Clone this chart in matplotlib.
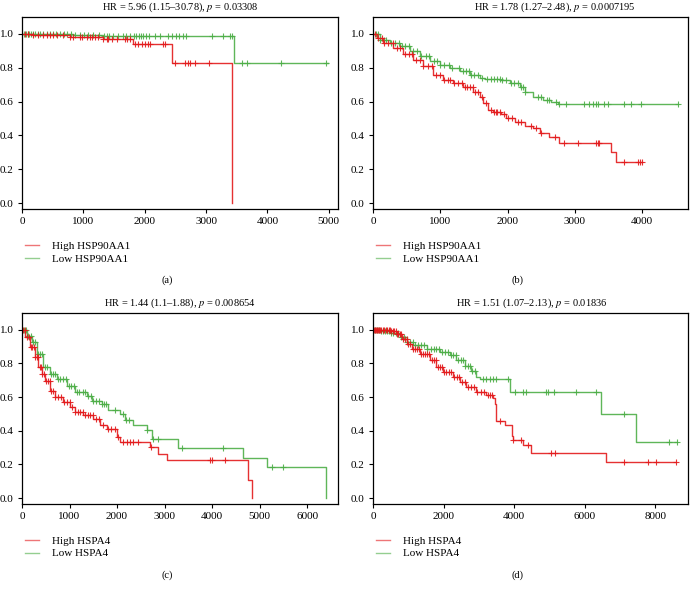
import numpy as np
import matplotlib
matplotlib.use("Agg")
import matplotlib.pyplot as plt
from matplotlib.lines import Line2D

plt.rcParams['font.family'] = ['Liberation Serif', 'DejaVu Serif']
plt.rcParams['mathtext.fontset'] = 'stix'

RED = '#e31a1c'
GREEN = '#4dae47'

# ---- (a) HSP90AA1 ----
a_high_t = [0, 185, 782, 1325, 1813, 2438, 3420]
a_high_s = [1.0, 0.995, 0.982, 0.968, 0.939, 0.830, 0.0]
a_high_c = [49, 103, 185, 266, 348, 402, 456, 510, 565, 673, 782, 836, 945, 972, 1053,
            1108, 1135, 1189, 1243, 1325, 1379, 1406, 1461, 1542, 1678, 1705, 1759,
            1841, 1895, 1949, 2004, 2058, 2085, 2302, 2329, 2492, 2655, 2710, 2737,
            2818, 3052]
a_low_t = [0, 836, 1325, 3453]
a_low_s = [1.0, 0.994, 0.988, 0.826]
a_low_c = [30, 60, 90, 120, 150, 180, 220, 260, 300, 350, 400, 450, 500, 560, 620, 680,
           740, 800, 870, 940, 1010, 1080, 1150, 1250, 1330, 1380, 1420, 1480, 1560,
           1650, 1700, 1760, 1820, 1860, 1900, 1940, 1980, 2020, 2070, 2170, 2250,
           2380, 2450, 2510, 2560, 2620, 2680, 3090, 3280, 3390, 3420, 3580, 3660,
           4220, 4950]

# ---- (b) HSP90AA1 ----
b_high_t = [0, 54, 153, 301, 449, 598, 746, 894, 1042, 1190, 1338, 1486, 1585, 1634,
            1709, 1783, 1906, 1980, 2104, 2252, 2375, 2474, 2622, 2770, 3536, 3610]
b_high_s = [1.0, 0.976, 0.947, 0.917, 0.881, 0.848, 0.808, 0.758, 0.729, 0.709, 0.689,
            0.659, 0.630, 0.590, 0.551, 0.537, 0.525, 0.501, 0.481, 0.457, 0.442, 0.412,
            0.388, 0.358, 0.303, 0.240]
b_high_c = [30, 70, 130, 170, 220, 290, 350, 400, 470, 530, 580, 640, 700, 750, 820, 880,
            940, 990, 1050, 1110, 1150, 1200, 1260, 1320, 1360, 1400, 1440, 1480, 1520,
            1560, 1620, 1680, 1760, 1800, 1820, 1840, 1880, 1950, 2010, 2060, 2150,
            2200, 2350, 2420, 2500, 2700, 2844, 3042, 3314, 3338, 3363, 3733, 3931,
            3965, 3995]
b_low_t = [0, 104, 252, 400, 548, 696, 844, 993, 1141, 1289, 1437, 1585, 1659, 1881,
           2030, 2178, 2252, 2375, 2523, 2647, 2746]
b_low_s = [1.0, 0.966, 0.947, 0.927, 0.897, 0.867, 0.838, 0.814, 0.798, 0.778, 0.758,
           0.739, 0.733, 0.729, 0.709, 0.689, 0.659, 0.630, 0.610, 0.596, 0.586]
b_low_c = [40, 80, 110, 160, 200, 260, 330, 380, 430, 480, 540, 600, 660, 720, 780, 830,
           900, 950, 1000, 1050, 1130, 1180, 1280, 1330, 1380, 1420, 1460, 1500, 1560,
           1620, 1700, 1760, 1800, 1840, 1880, 1920, 1980, 2050, 2100, 2150, 2200,
           2230, 2260, 2450, 2500, 2580, 2620, 2720, 2760, 2869, 3141, 3215, 3264,
           3314, 3338, 3437, 3487, 3733, 3832, 3980, 4538]

# ---- (c) HSPA4 ----
c_high_t = [0, 63, 168, 274, 344, 414, 484, 590, 695, 870, 1011, 1116, 1291, 1502, 1642,
            1783, 1993, 2063, 2695, 2870, 3046, 4765, 4835]
c_high_s = [1.0, 0.955, 0.897, 0.836, 0.777, 0.738, 0.698, 0.639, 0.600, 0.570, 0.540,
            0.511, 0.491, 0.471, 0.432, 0.412, 0.363, 0.331, 0.304, 0.260, 0.225, 0.110,
            0.0]
c_high_c = [30, 60, 100, 140, 180, 220, 250, 280, 310, 340, 370, 400, 430, 460, 500, 540,
            580, 620, 660, 700, 760, 820, 880, 940, 1000, 1060, 1120, 1170, 1220, 1280,
            1330, 1380, 1440, 1500, 1560, 1620, 1700, 1820, 1880, 1960, 2020, 2133,
            2204, 2274, 2344, 2449, 2716, 3958, 3993, 4274]
c_low_t = [0, 98, 204, 309, 449, 590, 730, 940, 1116, 1362, 1467, 1677, 1818, 2063, 2169,
           2344, 2625, 2730, 3291, 4660, 5151, 6400]
c_low_s = [1.0, 0.964, 0.925, 0.856, 0.777, 0.738, 0.708, 0.669, 0.629, 0.609, 0.580,
           0.560, 0.525, 0.501, 0.462, 0.432, 0.402, 0.353, 0.300, 0.240, 0.182, 0.0]
c_low_c = [40, 80, 130, 180, 230, 280, 330, 380, 430, 480, 530, 600, 650, 700, 760, 800,
           860, 920, 980, 1040, 1100, 1150, 1200, 1280, 1330, 1390, 1450, 1500, 1560,
           1620, 1690, 1730, 1760, 1960, 2130, 2180, 2260, 2625, 2765, 2870, 3362,
           4239, 5257, 5502]

# ---- (d) HSPA4 ----
d_high_t = [0, 481, 669, 810, 952, 1093, 1329, 1611, 1800, 1988, 2271, 2459, 2648, 2931,
            3213, 3402, 3449, 3477, 3732, 3948, 3967, 4250, 4485, 6606]
d_high_s = [1.0, 0.992, 0.976, 0.947, 0.917, 0.887, 0.857, 0.818, 0.778, 0.749, 0.719,
            0.689, 0.659, 0.630, 0.610, 0.596, 0.560, 0.461, 0.432, 0.372, 0.343, 0.313,
            0.267, 0.214]
d_high_c = [20, 50, 80, 110, 140, 170, 200, 240, 280, 320, 360, 400, 440, 480, 520, 560,
            600, 640, 680, 720, 760, 800, 850, 900, 950, 1000, 1060, 1120, 1180, 1240,
            1300, 1360, 1420, 1480, 1540, 1600, 1660, 1720, 1780, 1840, 1900, 1960,
            2020, 2080, 2150, 2220, 2300, 2380, 2450, 2520, 2600, 2700, 2780, 2850,
            2950, 3050, 3150, 3250, 3330, 3380, 3590, 3967, 4203, 4391, 5051, 5173,
            7124, 7783, 8019, 8584]
d_low_t = [0, 198, 481, 763, 952, 1140, 1517, 1894, 2177, 2365, 2601, 2789, 2931, 3025,
           3873, 6464, 7454]
d_low_s = [1.0, 0.992, 0.980, 0.956, 0.927, 0.907, 0.887, 0.867, 0.848, 0.818, 0.788,
           0.758, 0.719, 0.705, 0.630, 0.501, 0.333]
d_low_c = [50, 100, 160, 220, 280, 340, 400, 460, 520, 580, 650, 720, 800, 880, 960, 1040,
           1120, 1200, 1280, 1360, 1440, 1540, 1640, 1720, 1800, 1880, 1960, 2040,
           2120, 2200, 2280, 2350, 2420, 2500, 2560, 2620, 2700, 2760, 2820, 2880,
           3119, 3213, 3308, 3402, 3496, 3826, 4014, 4250, 4344, 4909, 4957, 5145,
           5757, 6323, 7124, 8396, 8632]

panels = [
    dict(high=(a_high_t, a_high_s, a_high_c), low=(a_low_t, a_low_s, a_low_c),
         end_high=3420, end_low=4990, gene='HSP90AA1', xlim=5150,
         xticks=[0, 1000, 2000, 3000, 4000, 5000],
         title='HR = 5.96 (1.15–30.78), $p$ = 0.03308', label='(a)'),
    dict(high=(b_high_t, b_high_s, b_high_c), low=(b_low_t, b_low_s, b_low_c),
         end_high=3995, end_low=4538, gene='HSP90AA1', xlim=4680,
         xticks=[0, 1000, 2000, 3000, 4000],
         title='HR = 1.78 (1.27–2.48), $p$ = 0.0007195', label='(b)'),
    dict(high=(c_high_t, c_high_s, c_high_c), low=(c_low_t, c_low_s, c_low_c),
         end_high=4835, end_low=6400, gene='HSPA4', xlim=6650,
         xticks=[0, 1000, 2000, 3000, 4000, 5000, 6000],
         title='HR = 1.44 (1.1–1.88), $p$ = 0.008654', label='(c)'),
    dict(high=(d_high_t, d_high_s, d_high_c), low=(d_low_t, d_low_s, d_low_c),
         end_high=8584, end_low=8632, gene='HSPA4', xlim=8930,
         xticks=[0, 2000, 4000, 6000, 8000],
         title='HR = 1.51 (1.07–2.13), $p$ = 0.01836', label='(d)'),
]

W, H = 690, 590
fig = plt.figure(figsize=(W / 100, H / 100), dpi=100)

# axes boxes in pixels: left, top, right, bottom
boxes = [(22, 17, 338, 209), (373, 17, 688, 209), (22, 313, 338, 504), (373, 313, 688, 504)]
title_x = [180, 555, 180, 532]
label_x = [167, 518, 167, 518]


def km(ax, t, s, c, end, color):
    t = np.asarray(t, float)
    s = np.asarray(s, float)
    tt = np.append(t, end)
    ss = np.append(s, s[-1])
    ax.step(tt, ss, where='post', color=color, lw=1.0, alpha=0.9)
    c = np.asarray(c, float)
    idx = np.searchsorted(t, c, side='right') - 1
    ax.plot(c, s[idx], ls='none', marker='+', ms=5, mew=0.8, color=color, alpha=0.9)


for i, p in enumerate(panels):
    l, t, r, b = boxes[i]
    ax = fig.add_axes([l / W, 1 - b / H, (r - l) / W, (b - t) / H])
    km(ax, *p['low'], p['end_low'], GREEN)
    km(ax, *p['high'], p['end_high'], RED)
    ax.set_xlim(0, p['xlim'])
    ax.set_ylim(-0.035, 1.1)
    ax.set_xticks(p['xticks'])
    ax.set_yticks([0.0, 0.2, 0.4, 0.6, 0.8, 1.0])
    ax.set_yticklabels(['0.0', '0.2', '0.4', '0.6', '0.8', '1.0'])
    ax.tick_params(labelsize=8, length=3, width=0.8, pad=3)
    for sp in ax.spines.values():
        sp.set_linewidth(0.9)
    handles = [Line2D([], [], color=RED, lw=1.0, alpha=0.6),
               Line2D([], [], color=GREEN, lw=1.0, alpha=0.6)]
    ax.legend(handles, ['High ' + p['gene'], 'Low ' + p['gene']],
              loc='upper left', bbox_to_anchor=(-0.005, -0.145),
              frameon=False, fontsize=8, handlelength=1.3, handletextpad=1.1,
              labelspacing=0.25, borderaxespad=0)
    fig.text(title_x[i] / W, 1 - (t - 10) / H, p['title'], ha='center', va='center',
             fontsize=7.5)
    fig.text(label_x[i] / W, 1 - (b + 71) / H, p['label'], ha='center', va='center',
             fontsize=7.5)

fig.savefig('out.png', dpi=100)
